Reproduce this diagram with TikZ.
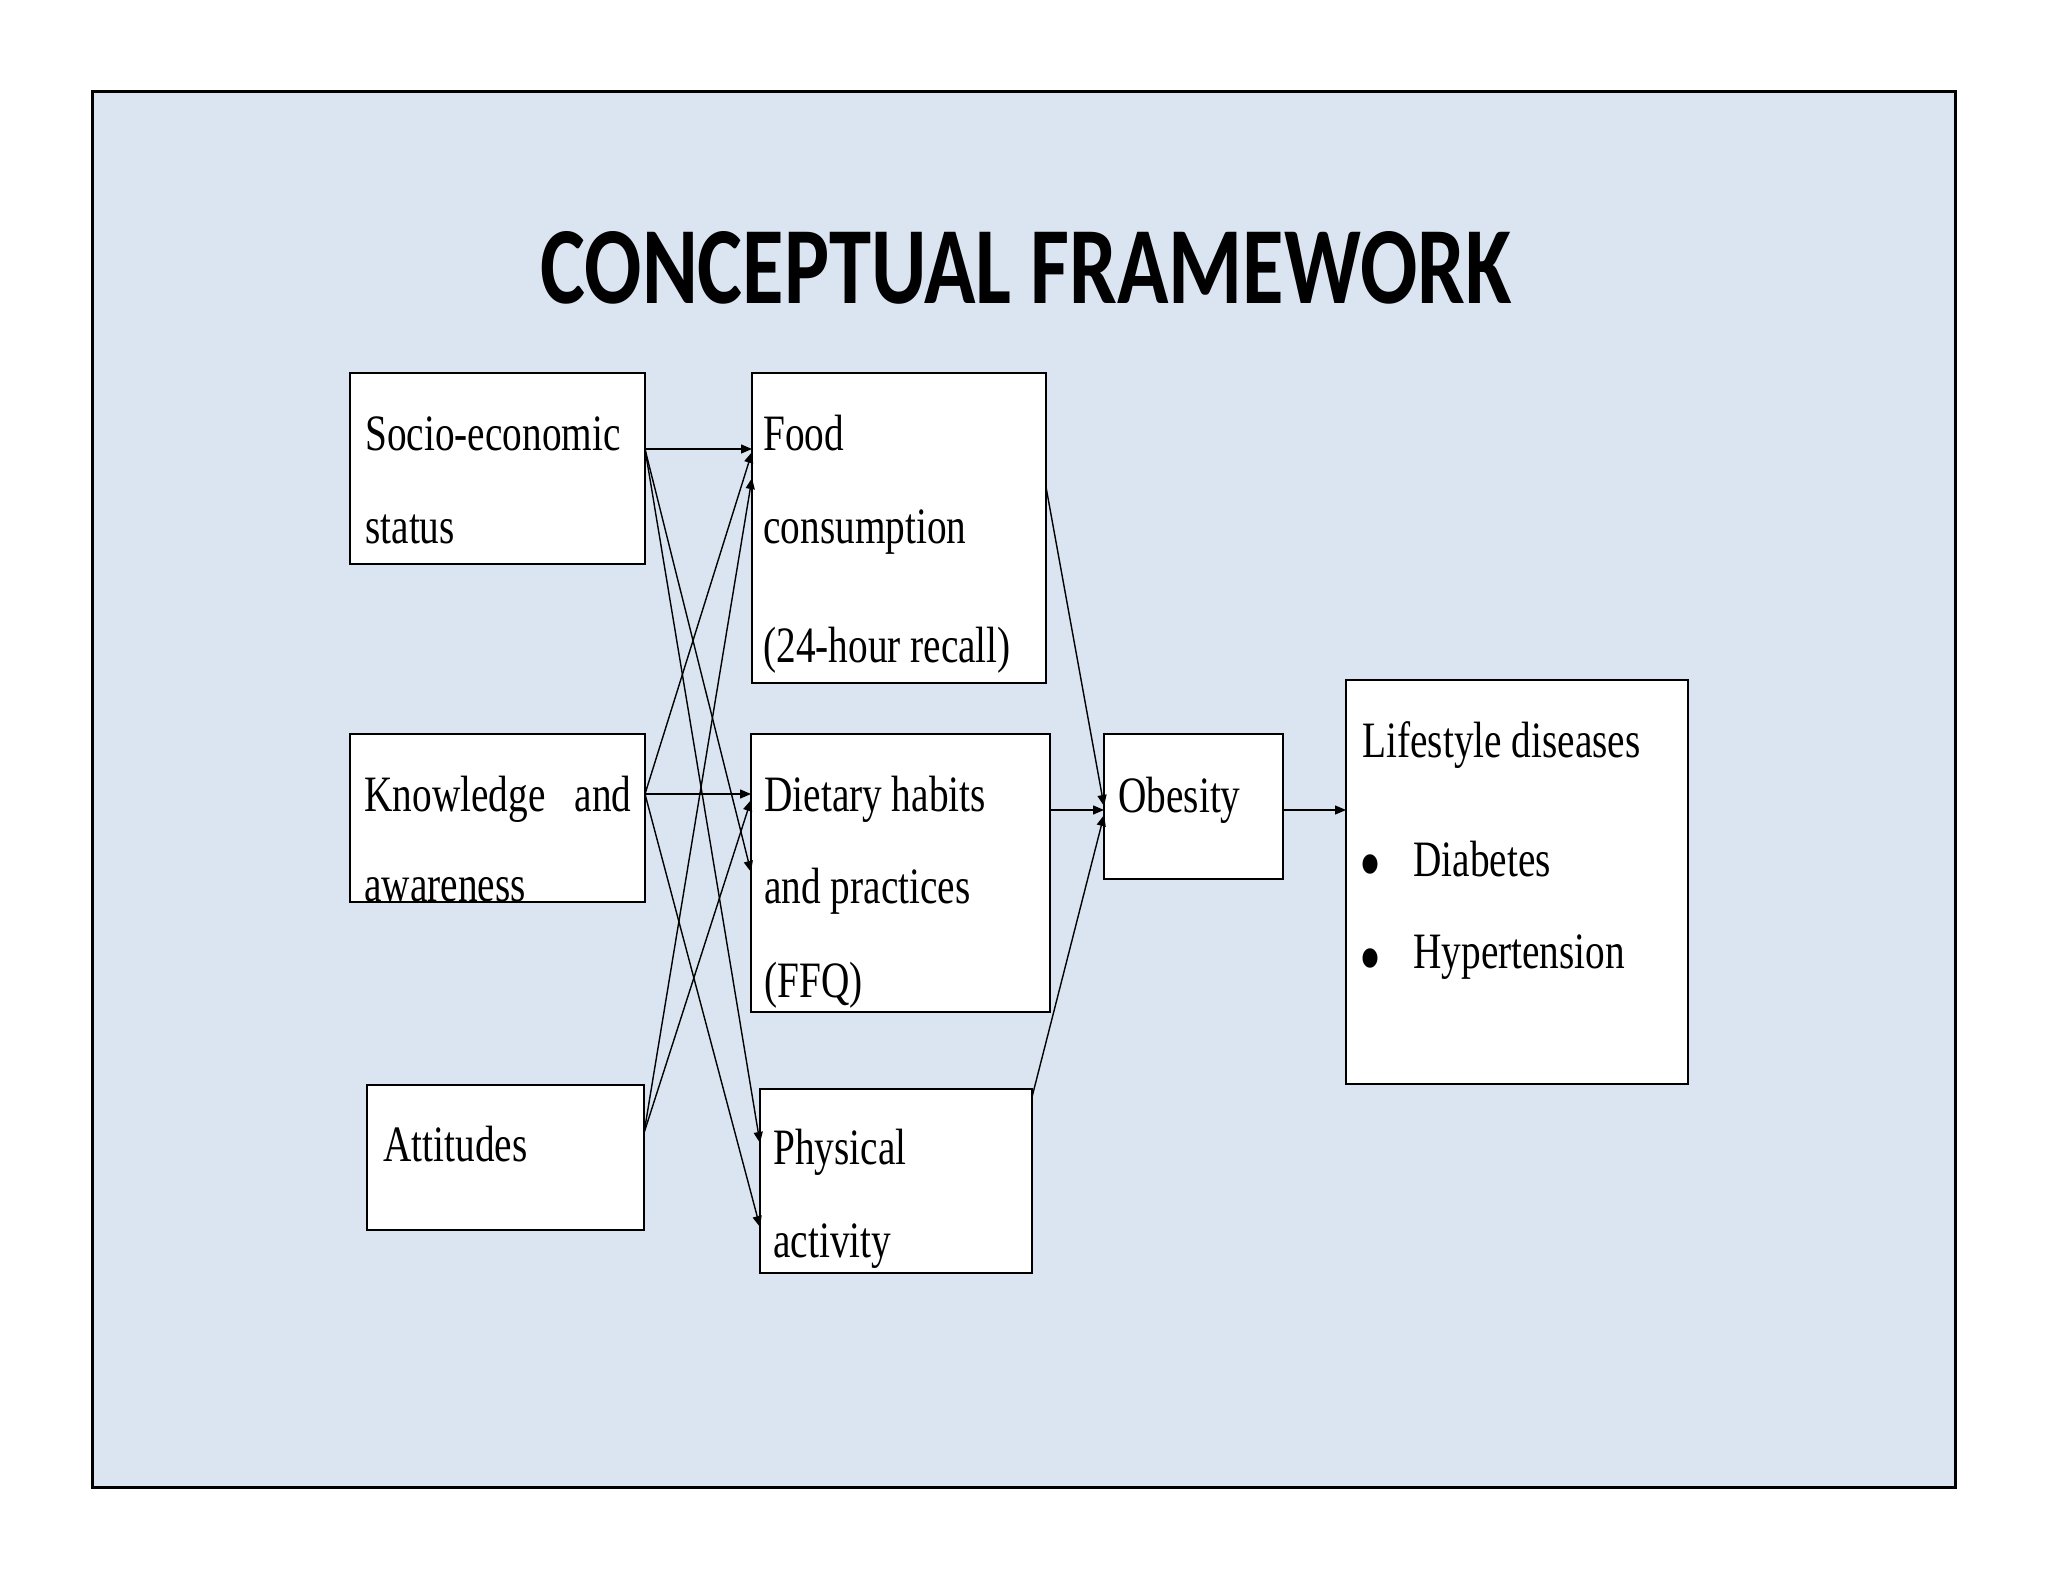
\documentclass[tikz,border=0pt]{standalone}
\usepackage{fontspec}
\usepackage{graphicx}
\setmainfont{Liberation Serif}[FakeStretch=0.77]
\newfontfamily\titlefont{Carlito}
\usetikzlibrary{arrows.meta}
\definecolor{bgblue}{HTML}{DBE5F1}
\begin{document}
\begin{tikzpicture}[x=0.5pt,y=-0.5pt,
  bx/.style={draw=black, fill=white, line width=1pt, anchor=north west, inner sep=0pt, outer sep=0pt},
  txt/.style={anchor=base west, inner sep=0pt, font=\fontsize{25.5pt}{30pt}\selectfont},
  arr/.style={line width=0.7pt, -{Triangle[length=5.5pt,width=4.5pt]}}]
\useasboundingbox (0,0) rectangle (2048,1582);
\fill[white] (0,0) rectangle (2048,1582);
\draw[fill=bgblue, line width=1.5pt] (92,92) rectangle (1955,1487);
% title
\node[anchor=base west, inner sep=0pt] (title) at (540,304)
  {\resizebox{485.5pt}{36pt}{\titlefont\bfseries CONCEPTUAL FRAMEWORK}};
% boxes
\node[bx, minimum width=147.5pt, minimum height=95.5pt] (socio) at (350,373) {};
\node[bx, minimum width=147pt, minimum height=155pt] (food) at (752,373) {};
\node[bx, minimum width=147.5pt, minimum height=84pt] (know) at (350,734) {};
\node[bx, minimum width=149.5pt, minimum height=139pt] (diet) at (751,734) {};
\node[bx, minimum width=138.5pt, minimum height=72.5pt] (att) at (367,1085) {};
\node[bx, minimum width=136pt, minimum height=92pt] (phys) at (760,1089) {};
\node[bx, minimum width=89.5pt, minimum height=72.5pt] (obes) at (1104,734) {};
\node[bx, minimum width=171pt, minimum height=202pt] (life) at (1346,680) {};
% texts
\node[txt] (t1) at (365,451) {Socio-economic};
\node[txt] (t2) at (365,544) {status};
\node[txt] (t3) at (763,451) {Food};
\node[txt] (t4) at (763,544) {consumption};
\node[txt] (t5) at (763,662) {(24-hour recall)};
\node[txt] (t6) at (364,811) {\makebox[133.5pt][l]{Knowledge\hfill and}};
\node[txt] (t7) at (364,901) {awareness};
\node[txt] (t8) at (764,811) {Dietary habits};
\node[txt] (t9) at (764,903) {and practices};
\node[txt] (t10) at (764,997) {(FFQ)};
\node[txt] (t11) at (383,1161) {Attitudes};
\node[txt] (t12) at (773,1164) {Physical};
\node[txt] (t13) at (773,1257) {activity};
\node[txt] (t14) at (1118,812) {Obesity};
\node[txt] (t15) at (1362,757) {Lifestyle diseases};
\node[txt] (b1) at (1359,891) {\scalebox{1.6}{\textbullet}};
\node[txt] (t16) at (1413,876) {Diabetes};
\node[txt] (b2) at (1359,985) {\scalebox{1.6}{\textbullet}};
\node[txt] (t17) at (1413,968) {Hypertension};
% connectors
\draw[arr] ([yshift=-38pt]socio.north east) -- ([yshift=-38pt]food.north west);
\draw[arr] ([yshift=-38pt]socio.north east) -- ([yshift=-69pt]diet.north west);
\draw[arr] ([yshift=-38pt]socio.north east) -- ([yshift=-27pt]phys.north west);
\draw[arr] ([yshift=-30pt]know.north east) -- ([yshift=-39.5pt]food.north west);
\draw[arr] ([yshift=-30pt]know.north east) -- ([yshift=-30pt]diet.north west);
\draw[arr] ([yshift=-30pt]know.north east) -- ([yshift=-69pt]phys.north west);
\draw[arr] ([yshift=-24pt]att.north east) -- ([yshift=-52.5pt]food.north west);
\draw[arr] ([yshift=-24pt]att.north east) -- ([yshift=-33pt]diet.north west);
\draw[arr] ([yshift=-57pt]food.north east) -- ([yshift=-36pt]obes.north west);
\draw[arr] ([yshift=-38pt]diet.north east) -- ([yshift=-38pt]obes.north west);
\draw[arr] ([yshift=-4pt]phys.north east) -- ([yshift=-40.5pt]obes.north west);
\draw[arr] ([yshift=-38pt]obes.north east) -- ([yshift=-65pt]life.north west);
\end{tikzpicture}
\end{document}
